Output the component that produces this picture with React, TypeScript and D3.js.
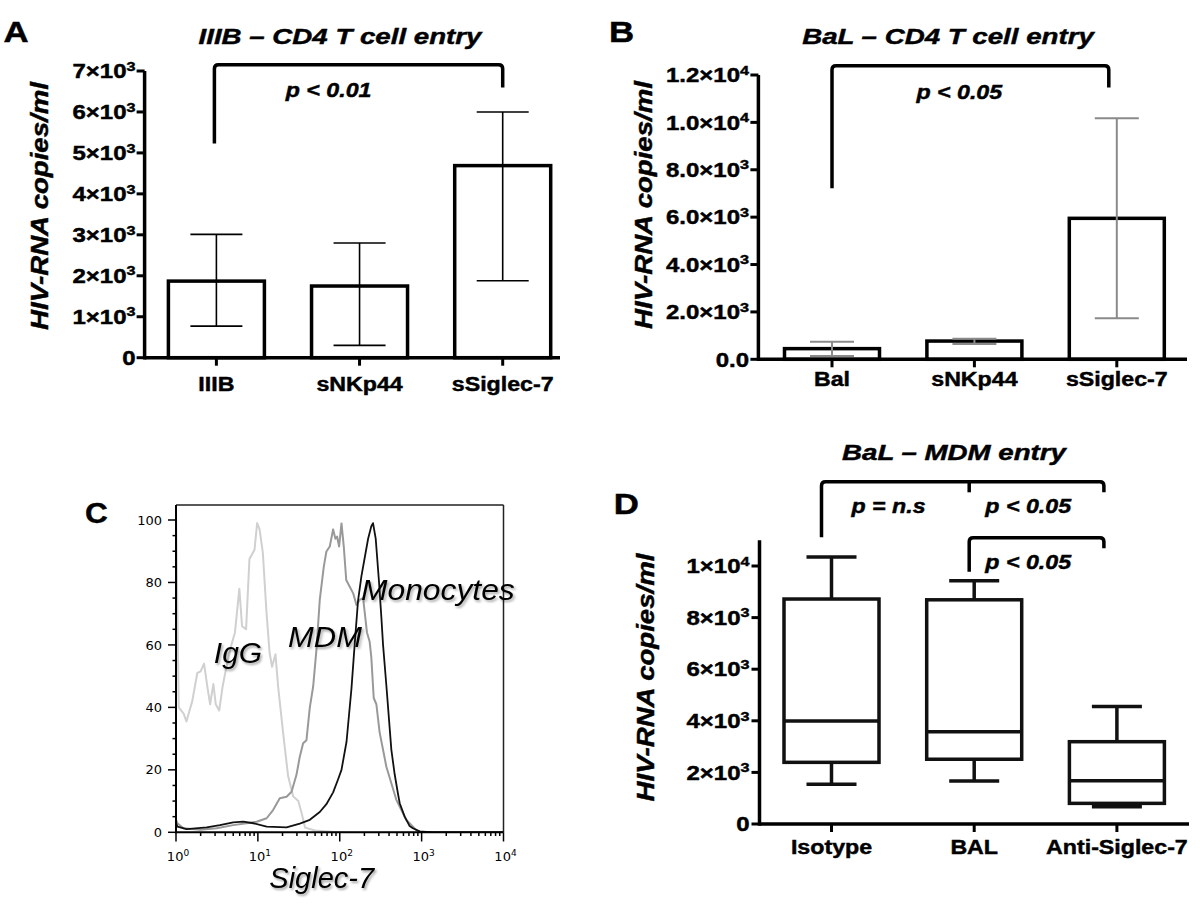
import React from 'react';
import * as d3 from 'd3';

// ---------- Panel A data ----------
const aCats = ['IIIB', 'sNKp44', 'sSiglec-7'];
const aMeans = [1870, 1750, 4690];
const aErrLow = [770, 300, 1880];
const aErrHigh = [3010, 2800, 6000];
const aTicks = [0, 1000, 2000, 3000, 4000, 5000, 6000, 7000];
const aTickLabels = ['0', '1×10^3', '2×10^3', '3×10^3', '4×10^3', '5×10^3', '6×10^3', '7×10^3'];

// ---------- Panel B data ----------
const bCats = ['Bal', 'sNKp44', 'sSiglec-7'];
const bMeans = [450, 770, 5950];
const bErrLow = [140, 650, 1730];
const bErrHigh = [740, 870, 10170];
const bTicks = [0, 2000, 4000, 6000, 8000, 10000, 12000];
const bTickLabels = ['0.0', '2.0×10^3', '4.0×10^3', '6.0×10^3', '8.0×10^3', '1.0×10^4', '1.2×10^4'];

// ---------- Panel C data (intensity, % of max) ----------
const iggCurve: [number, number][] = [
  [1.0, 104], [1.08, 40], [1.24, 38], [1.34, 35.5], [1.58, 42], [1.82, 51], [2.0, 51.5], [2.2, 54],
  [2.42, 46.5], [2.61, 41], [2.86, 47.5], [3.06, 41], [3.37, 39], [3.7, 46.5], [4.06, 52], [4.69, 59.5],
  [5.25, 64], [5.94, 78], [6.41, 66], [7.18, 65], [7.89, 87.5], [9.1, 90.5], [9.8, 99], [10.5, 97],
  [11.5, 89.5], [12.7, 71], [13.9, 57.5], [14.9, 53], [16.4, 57], [17.7, 46.5], [20.4, 31.5], [23.4, 18],
  [27, 11.5], [31.2, 10], [34.3, 6], [37.7, 1.5], [50, 0.6], [80, 0.2], [150, 0], [10000, 0],
];
const mdmCurve: [number, number][] = [
  [1.0, 4], [1.04, 2.9], [1.23, 1.3], [1.96, 0.8], [3.13, 1.3], [5.0, 2.3], [7.28, 2.9], [9.64, 3.4],
  [12.8, 4.5], [15.4, 7.2], [18.5, 10.9], [22.4, 11.4], [25.8, 13], [29.6, 18.4], [32.5, 24.2], [35.7, 28.5],
  [39.2, 29.5], [43.1, 40], [47.3, 46.6], [51.9, 58.4], [57, 74.4], [63.8, 85], [68.7, 89.9], [75.5, 91.5],
  [83, 97], [88.5, 94], [92.7, 94.7], [98.2, 91.5], [105, 98.9], [112, 91.5], [120, 80.8], [132, 78.7],
  [146, 76.5], [160, 72.8], [175, 74.4], [193, 75], [215, 64], [232, 61], [243, 56], [260, 43], [280, 41],
  [307, 32], [371, 21], [491, 10.4], [648, 4], [861, 0.7], [1000, 0], [10000, 0],
];
const monoCurve: [number, number][] = [
  [1.0, 3], [1.04, 1.8], [1.35, 1.0], [2.37, 1.6], [3.44, 2.3], [5.0, 3.2], [6.62, 3.4], [8.77, 2.9],
  [12.8, 1.8], [22.4, 1.6], [32.5, 2.8], [43.1, 4], [57, 6.5], [68.7, 9], [83, 12.8], [95.5, 17], [105, 20],
  [121, 29], [139, 46], [152, 60], [167, 74], [184, 82], [202, 88], [222, 94], [243, 98], [255, 99],
  [275, 94], [302, 80], [322, 69], [338, 60], [371, 47], [427, 26.4], [469, 18.5], [513, 12.5], [540, 9.3],
  [621, 5], [714, 2], [783, 1.3], [946, 0.3], [1375, 0], [10000, 0],
];
const cYTicks = [0, 20, 40, 60, 80, 100];
const cXTicks = [1, 10, 100, 1000, 10000];
const cXTickLabels = ['10^0', '10^1', '10^2', '10^3', '10^4'];

// ---------- Panel D data ----------
const dCats = ['Isotype', 'BAL', 'Anti-Siglec-7'];
const dMin = [1540, 1670, 670];
const dQ1 = [2390, 2510, 800];
const dMed = [3990, 3580, 1680];
const dQ3 = [8720, 8690, 3190];
const dMax = [10350, 9430, 4550];
const dTicks = [0, 2000, 4000, 6000, 8000, 10000];
const dTickLabels = ['0', '2×10^3', '4×10^3', '6×10^3', '8×10^3', '1×10^4'];

const FONT = '"Liberation Sans", Arial, Helvetica, sans-serif';
const FLOW_FONT = '"DejaVu Sans", Verdana, sans-serif';

type TP = {
  x: number; y: number; size: number; sx?: number; anchor?: string; bold?: boolean; italic?: boolean;
  rot?: number; fill?: string; family?: string; filter?: string; heavy?: boolean; children?: React.ReactNode;
};
function Txt({ x, y, size, sx = 1, anchor = 'middle', bold = true, italic = false, rot = 0, fill = '#000', family = FONT, filter, heavy = false, children }: TP) {
  return (
    <text
      transform={`translate(${x},${y}) rotate(${rot}) scale(${sx},1)`}
      textAnchor={anchor as any}
      fontSize={size}
      fontWeight={bold ? 'bold' : 'normal'}
      fontStyle={italic ? 'italic' : 'normal'}
      fontFamily={family}
      fill={fill}
      stroke={heavy ? fill : undefined}
      strokeWidth={heavy ? 0.45 : undefined}
      filter={filter}
    >
      {children}
    </text>
  );
}

function supLabel(label: string, supSize: number, dy: number) {
  const [base, exp] = label.split('^');
  return (
    <>
      {base}
      {exp !== undefined && <tspan dy={dy} fontSize={supSize}>{exp}</tspan>}
    </>
  );
}

function bracket(x1: number, y1b: number, yTop: number, x2: number, y2b: number, r = 4) {
  return `M${x1},${y1b} V${yTop + r} Q${x1},${yTop} ${x1 + r},${yTop} H${x2 - r} Q${x2},${yTop} ${x2},${yTop + r} V${y2b}`;
}

const AX_W = 3.5;
const TICK_FS = 20;
const TICK_SX = 1.2;
const CAT_FS = 20;
const CAT_SX = 1.16;
const TITLE_FS = 22.5;
const TITLE_SX = 1.23;
const P_FS = 20;
const P_SX = 1.16;
const YL_FS = 23;
const YL_SX = 1.2;

function PanelA() {
  const y = d3.scaleLinear().domain([0, 7000]).range([357.7, 71]);
  const x = d3.scalePoint<string>().domain(aCats).range([216.4, 502.7]);
  const x0 = 144.6;
  const barW = 96;
  return (
    <g>
      <Txt x={3.6} y={42} size={29} sx={1.2} anchor="start" heavy>A</Txt>
      <Txt x={340} y={44} size={TITLE_FS} sx={TITLE_SX} italic heavy>IIIB – CD4 T cell entry</Txt>
      <Txt x={47.5} y={206} size={YL_FS} sx={YL_SX} italic rot={-90} heavy>HIV-RNA copies/ml</Txt>
      {aCats.map((c, i) => (
        <g key={c}>
          <rect x={x(c)! - barW / 2} y={y(aMeans[i])} width={barW} height={y(0) - y(aMeans[i])} fill="#fff" stroke="#000" strokeWidth={AX_W} />
          <line x1={x(c)} x2={x(c)} y1={y(aErrLow[i])} y2={y(aErrHigh[i])} stroke="#000" strokeWidth={1.6} />
          <line x1={x(c)! - 26} x2={x(c)! + 26} y1={y(aErrLow[i])} y2={y(aErrLow[i])} stroke="#000" strokeWidth={1.6} />
          <line x1={x(c)! - 26} x2={x(c)! + 26} y1={y(aErrHigh[i])} y2={y(aErrHigh[i])} stroke="#000" strokeWidth={1.6} />
          <line x1={x(c)} x2={x(c)} y1={y(0)} y2={y(0) + 8} stroke="#000" strokeWidth={3} />
          <Txt x={x(c)!} y={390.5} size={CAT_FS} sx={CAT_SX} heavy>{c}</Txt>
        </g>
      ))}
      <line x1={x0} x2={x0} y1={y(0) + AX_W / 2} y2={y(7000)} stroke="#000" strokeWidth={AX_W} />
      <line x1={x0} x2={560} y1={y(0)} y2={y(0)} stroke="#000" strokeWidth={AX_W} />
      {aTicks.map((t, i) => (
        <g key={t}>
          <line x1={x0 - 8} x2={x0} y1={y(t)} y2={y(t)} stroke="#000" strokeWidth={3} />
          <Txt x={135.5} y={y(t) + 7.2} size={TICK_FS} sx={TICK_SX} anchor="end" heavy>{supLabel(aTickLabels[i], 13.5, -7.5)}</Txt>
        </g>
      ))}
      <path d={bracket(x('IIIB')! - 2, y(5230), y(7150), x('sSiglec-7')!, y(6600))} fill="none" stroke="#000" strokeWidth={AX_W} />
      <Txt x={328.6} y={97} size={P_FS} sx={P_SX} italic heavy>p &lt; 0.01</Txt>
    </g>
  );
}

function PanelB() {
  const y = d3.scaleLinear().domain([0, 12000]).range([359.3, 75]);
  const x = d3.scalePoint<string>().domain(bCats).range([832, 1116.8]);
  const x0 = 758.4;
  const barW = 95;
  const errC = '#8a8a8a';
  return (
    <g>
      <Txt x={609} y={42} size={29} sx={1.2} anchor="start" heavy>B</Txt>
      <Txt x={948} y={44} size={TITLE_FS} sx={TITLE_SX} italic heavy>BaL – CD4 T cell entry</Txt>
      <Txt x={651.5} y={205} size={YL_FS} sx={YL_SX} italic rot={-90} heavy>HIV-RNA copies/ml</Txt>
      {bCats.map((c, i) => (
        <g key={c}>
          <rect x={x(c)! - barW / 2} y={y(bMeans[i])} width={barW} height={y(0) - y(bMeans[i])} fill="#fff" stroke="#000" strokeWidth={AX_W} />
          <line x1={x(c)} x2={x(c)} y1={y(bErrLow[i])} y2={y(bErrHigh[i])} stroke={errC} strokeWidth={2} />
          <line x1={x(c)! - 22} x2={x(c)! + 22} y1={y(bErrLow[i])} y2={y(bErrLow[i])} stroke={errC} strokeWidth={2} />
          <line x1={x(c)! - 22} x2={x(c)! + 22} y1={y(bErrHigh[i])} y2={y(bErrHigh[i])} stroke={errC} strokeWidth={2} />
          <line x1={x(c)} x2={x(c)} y1={y(0)} y2={y(0) + 8} stroke="#000" strokeWidth={3} />
          <Txt x={x(c)!} y={385.5} size={CAT_FS} sx={CAT_SX} heavy>{c}</Txt>
        </g>
      ))}
      <line x1={x0} x2={x0} y1={y(0) + AX_W / 2} y2={y(12000)} stroke="#000" strokeWidth={AX_W} />
      <line x1={x0} x2={1187} y1={y(0)} y2={y(0)} stroke="#000" strokeWidth={AX_W} />
      {bTicks.map((t, i) => (
        <g key={t}>
          <line x1={x0 - 8} x2={x0} y1={y(t)} y2={y(t)} stroke="#000" strokeWidth={3} />
          <Txt x={749} y={y(t) + 7.2} size={TICK_FS} sx={TICK_SX} anchor="end" heavy>{supLabel(bTickLabels[i], 13.5, -7.5)}</Txt>
        </g>
      ))}
      <path d={bracket(x('Bal')!, y(7215), y(12390), x('sSiglec-7')! - 8, y(11477))} fill="none" stroke="#000" strokeWidth={AX_W} />
      <Txt x={959.3} y={98.5} size={P_FS} sx={P_SX} italic heavy>p &lt; 0.05</Txt>
    </g>
  );
}

function PanelC() {
  const x = d3.scaleLog().domain([1, 10000]).range([176, 503.5]);
  const y = d3.scaleLinear().domain([0, 100]).range([832.3, 520]);
  const top = 505;
  const line = d3.line<[number, number]>().x(d => x(d[0])).y(d => y(d[1]));
  const minorY = d3.range(0, 101, 5).filter(v => v % 20 !== 0);
  const minorX: number[] = [];
  for (let e = 0; e < 4; e++) for (let m = 2; m <= 9; m++) minorX.push(m * Math.pow(10, e));
  const shadow = 'url(#txtShadow)';
  return (
    <g>
      <defs>
        <clipPath id="cClip">
          <rect x={176} y={top} width={503.5 - 176} height={832.3 - top} />
        </clipPath>
        <filter id="txtShadow" x="-20%" y="-30%" width="140%" height="160%">
          <feDropShadow dx="1.5" dy="2" stdDeviation="1.3" floodColor="#000" floodOpacity="0.35" />
        </filter>
      </defs>
      <Txt x={85} y={523} size={30} sx={1.05} anchor="start" heavy>C</Txt>
      <g clipPath="url(#cClip)" fill="none" strokeLinejoin="round">
        <path d={line(iggCurve)!} stroke="#d0d0d0" strokeWidth={2} />
        <path d={line(mdmCurve)!} stroke="#999" strokeWidth={2} />
        <path d={line(monoCurve)!} stroke="#111" strokeWidth={1.8} />
      </g>
      <line x1={176} x2={503.5} y1={top} y2={top} stroke="#222" strokeWidth={1.5} />
      <line x1={503.5} x2={503.5} y1={top} y2={832.3} stroke="#222" strokeWidth={1.5} />
      <line x1={176} x2={176} y1={top} y2={833.3} stroke="#000" strokeWidth={2} />
      <line x1={175} x2={503.5} y1={832.3} y2={832.3} stroke="#000" strokeWidth={2} />
      {cYTicks.map(t => (
        <g key={t}>
          <line x1={168} x2={176} y1={y(t)} y2={y(t)} stroke="#000" strokeWidth={1.5} />
          <Txt x={162} y={y(t) + 4.6} size={13} bold={false} anchor="end" family={FLOW_FONT}>{t}</Txt>
        </g>
      ))}
      {minorY.map(t => (
        <line key={t} x1={172.5} x2={176} y1={y(t)} y2={y(t)} stroke="#000" strokeWidth={1.5} />
      ))}
      {cXTicks.map((t, i) => (
        <g key={t}>
          <line x1={x(t)} x2={x(t)} y1={832.3} y2={841.5} stroke="#000" strokeWidth={1.5} />
          <Txt x={x(t) + 2} y={861} size={13} bold={false} family={FLOW_FONT}>{supLabel(cXTickLabels[i], 9, -5.5)}</Txt>
        </g>
      ))}
      {minorX.map(t => (
        <line key={t} x1={x(t)} x2={x(t)} y1={832.3} y2={836} stroke="#000" strokeWidth={1.5} />
      ))}
      <Txt x={238} y={663} size={30} sx={1.0} bold={false} italic filter={shadow}>IgG</Txt>
      <Txt x={325} y={646.7} size={30} sx={1.03} bold={false} italic filter={shadow}>MDM</Txt>
      <Txt x={361} y={600} size={30} sx={1.06} bold={false} italic anchor="start" filter={shadow}>Monocytes</Txt>
      <Txt x={321.7} y={888} size={29} bold={false} italic filter={shadow}>Siglec-7</Txt>
    </g>
  );
}

function PanelD() {
  const y = d3.scaleLinear().domain([0, 11000]).range([824, 540.2]);
  const x = d3.scalePoint<string>().domain(dCats).range([831.5, 1116.9]);
  const x0 = 759.5;
  const bw = 95;
  const cap = 25;
  const sw = 3.5;
  const xIso = x('Isotype')!, xBal = x('BAL')!, xAnti = x('Anti-Siglec-7')!;
  return (
    <g>
      <Txt x={613.7} y={513.5} size={29} sx={1.2} anchor="start" heavy>D</Txt>
      <Txt x={954} y={460} size={TITLE_FS} sx={TITLE_SX} italic heavy>BaL – MDM entry</Txt>
      <Txt x={653.5} y={677.5} size={YL_FS} sx={YL_SX} italic rot={-90} heavy>HIV-RNA copies/ml</Txt>
      {dCats.map((c, i) => (
        <g key={c} stroke="#111" strokeWidth={sw} fill="none">
          <line x1={x(c)} x2={x(c)} y1={y(dMin[i])} y2={y(dQ1[i])} />
          <line x1={x(c)} x2={x(c)} y1={y(dQ3[i])} y2={y(dMax[i])} />
          <line x1={x(c)! - cap} x2={x(c)! + cap} y1={y(dMin[i])} y2={y(dMin[i])} />
          <line x1={x(c)! - cap} x2={x(c)! + cap} y1={y(dMax[i])} y2={y(dMax[i])} />
          <rect x={x(c)! - bw / 2} y={y(dQ3[i])} width={bw} height={y(dQ1[i]) - y(dQ3[i])} fill="#fff" />
          <line x1={x(c)! - bw / 2} x2={x(c)! + bw / 2} y1={y(dMed[i])} y2={y(dMed[i])} />
          <line x1={x(c)} x2={x(c)} y1={y(0)} y2={y(0) + 8} stroke="#000" strokeWidth={3} />
        </g>
      ))}
      {dCats.map(c => (
        <Txt key={c} x={x(c)!} y={853.5} size={CAT_FS} sx={CAT_SX} heavy>{c}</Txt>
      ))}
      <line x1={x0} x2={x0} y1={y(0) + AX_W / 2} y2={y(11000)} stroke="#000" strokeWidth={AX_W} />
      <line x1={x0} x2={1189} y1={y(0)} y2={y(0)} stroke="#000" strokeWidth={AX_W} />
      {dTicks.map((t, i) => (
        <g key={t}>
          <line x1={x0 - 8} x2={x0} y1={y(t)} y2={y(t)} stroke="#000" strokeWidth={3} />
          <Txt x={749.5} y={y(t) + 7.2} size={TICK_FS} sx={TICK_SX} anchor="end" heavy>{supLabel(dTickLabels[i], 13.5, -7.5)}</Txt>
        </g>
      ))}
      <g fill="none" stroke="#000" strokeWidth={AX_W}>
        <path d={bracket(xIso - 10, y(11112), y(13267), xAnti - 13, y(12856))} />
        <line x1={xBal - 5} x2={xBal - 5} y1={y(13267)} y2={y(12856)} />
        <path d={bracket(xBal - 5, y(9779), y(11097), xAnti - 13, y(10686))} />
      </g>
      <Txt x={888.5} y={513} size={P_FS} sx={P_SX} italic heavy>p = n.s</Txt>
      <Txt x={1028.2} y={513} size={P_FS} sx={P_SX} italic heavy>p &lt; 0.05</Txt>
      <Txt x={1028.2} y={568.5} size={P_FS} sx={P_SX} italic heavy>p &lt; 0.05</Txt>
    </g>
  );
}

export default function App() {
  return (
    <svg
      width={1200}
      height={911}
      viewBox="0 0 1200 911"
      style={{ position: 'absolute', left: 0, top: 0, background: '#fff' }}
    >
      <rect x={0} y={0} width={1200} height={911} fill="#fff" />
      <PanelA />
      <PanelB />
      <PanelC />
      <PanelD />
    </svg>
  );
}
